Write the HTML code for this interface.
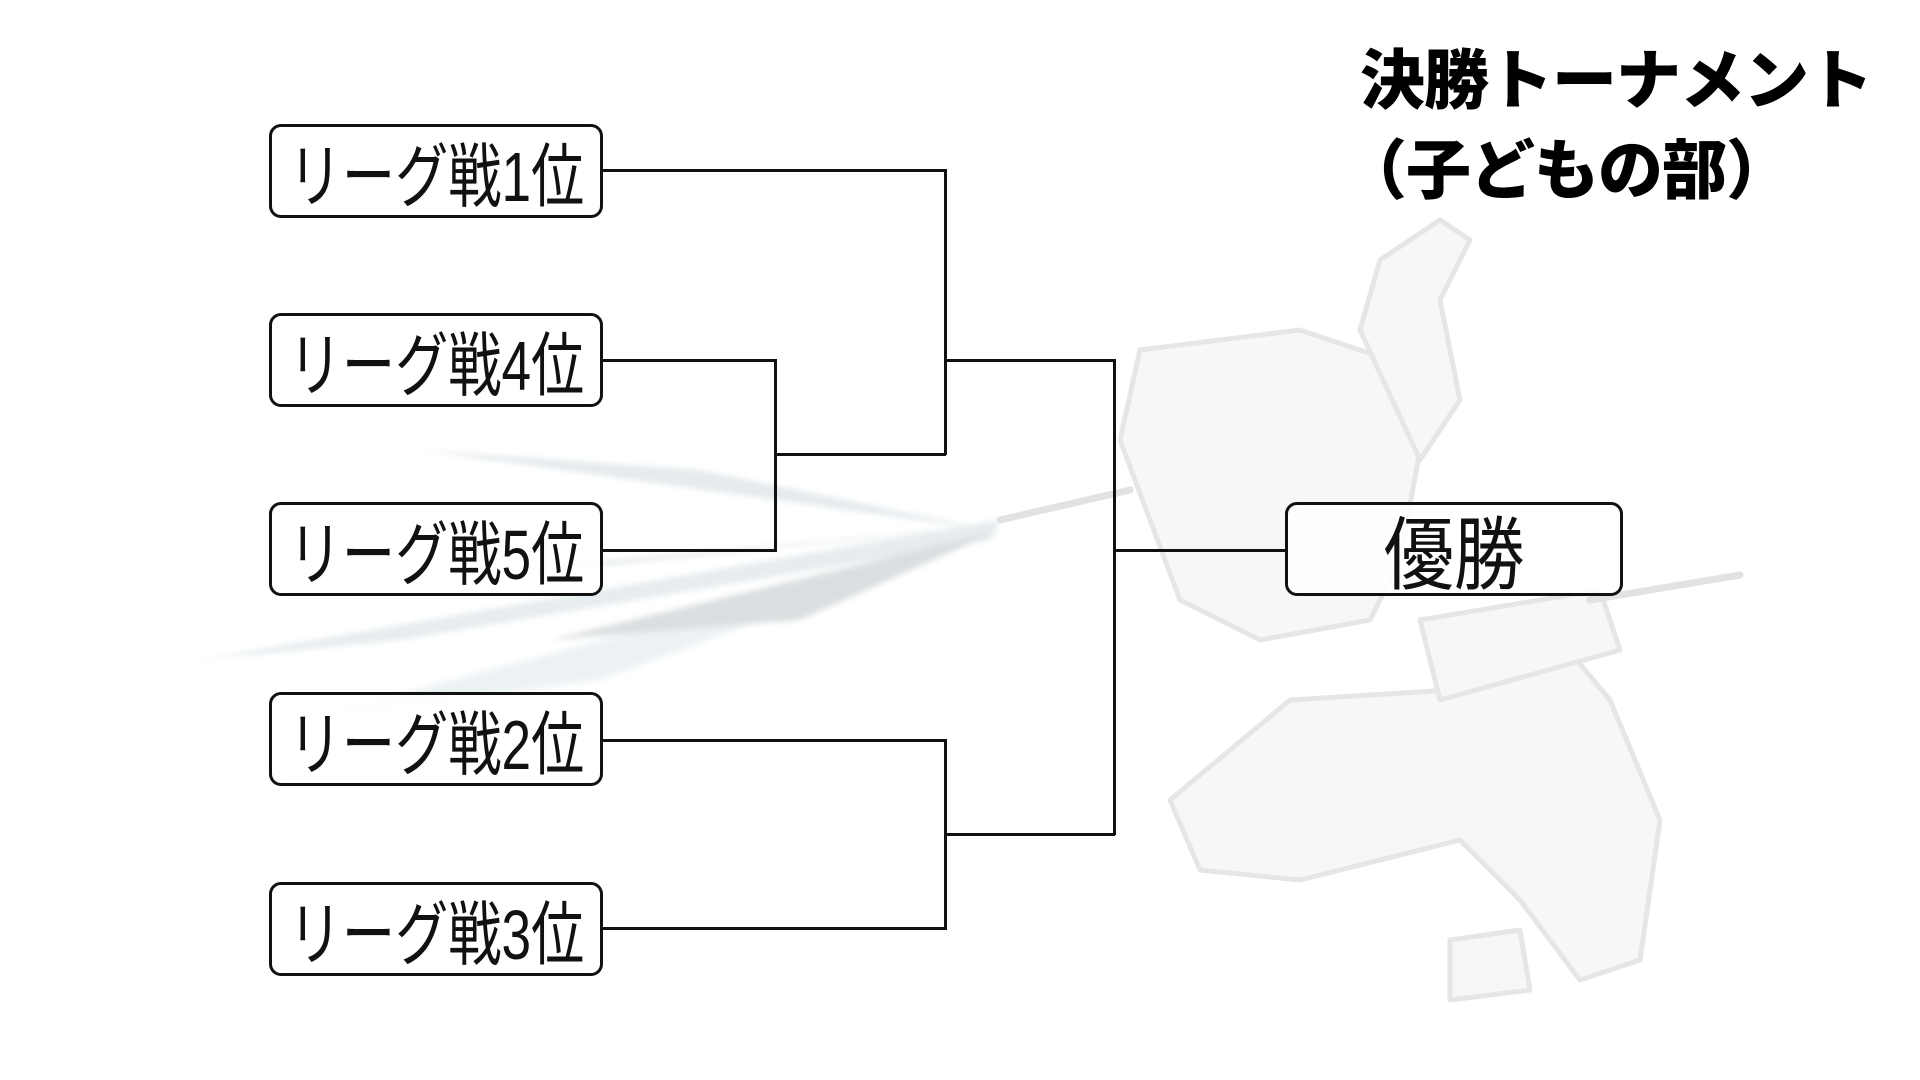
<!DOCTYPE html>
<html><head><meta charset="utf-8"><style>
html,body{margin:0;padding:0;background:#fff;}
#c{position:relative;width:1920px;height:1080px;overflow:hidden;background:#fff;}
.box{position:absolute;box-sizing:border-box;border:3px solid #111;border-radius:12px;background:rgba(255,255,255,0.85);}
.t{position:absolute;left:0;right:0;top:0;bottom:0;display:flex;align-items:center;justify-content:center;}
.t span{display:inline-block;font-family:"Liberation Sans","Noto Sans CJK JP",sans-serif;color:#111;white-space:nowrap;}
.ln{position:absolute;background:#111;}
.title{position:absolute;font-family:"Liberation Sans","Noto Sans CJK JP",sans-serif;font-weight:900;color:#000;white-space:nowrap;}
</style></head><body><div id="c">
<svg width="1920" height="1080" style="position:absolute;left:0;top:0">
 <defs><filter id="b"><feGaussianBlur stdDeviation="3"/></filter></defs>
 <g filter="url(#b)" opacity="0.45">
  <path d="M200 660 L1000 520 L990 540 L400 640 Z" fill="#c8d6dc"/>
  <path d="M260 600 L1000 525 L620 560 Z" fill="#b8c4c8"/>
  <path d="M420 450 L990 530 L700 470 Z" fill="#c5d2d8"/>
  <path d="M300 720 L980 540 L600 680 Z" fill="#d6e3e8"/>
  <path d="M550 640 L1000 530 L800 620 Z" fill="#b0b8bc"/>
 </g>
 <g fill="#f7f7f7" stroke="#e6e6e6" stroke-width="5" stroke-linejoin="round">
  <path d="M1140 350 L1300 330 L1390 360 L1420 450 L1400 560 L1370 620 L1260 640 L1180 600 L1150 520 L1120 440 Z"/>
  <path d="M1290 700 L1450 690 L1560 640 L1610 700 L1660 820 L1640 960 L1580 980 L1520 900 L1460 840 L1300 880 L1200 870 L1170 800 Z"/>
  <path d="M1420 620 L1600 590 L1620 650 L1440 700 Z"/>
  <path d="M1450 940 L1520 930 L1530 990 L1450 1000 Z"/>
  <path d="M1360 330 L1380 260 L1440 220 L1470 240 L1440 300 L1460 400 L1420 460 Z"/>
 </g>
 <g stroke="#e2e2e2" stroke-width="7" fill="none" stroke-linecap="round">
  <path d="M1000 520 L1130 490"/>
  <path d="M1590 600 L1740 575"/>
 </g>
</svg>

<div class="title" style="left:1360px;top:28px;font-size:65px;letter-spacing:-1px;">決勝トーナメント</div>
<div class="title" style="left:1342px;top:118px;font-size:65px;letter-spacing:-1px;">（子どもの部）</div>

<div class="ln" style="left:602px;top:169px;width:345px;height:2.5px"></div>
<div class="ln" style="left:944px;top:169px;width:2.5px;height:286px"></div>
<div class="ln" style="left:602px;top:359px;width:175px;height:2.5px"></div>
<div class="ln" style="left:774px;top:359px;width:2.5px;height:192px"></div>
<div class="ln" style="left:602px;top:549px;width:175px;height:2.5px"></div>
<div class="ln" style="left:774px;top:453px;width:172px;height:2.5px"></div>
<div class="ln" style="left:944px;top:359px;width:171px;height:2.5px"></div>
<div class="ln" style="left:1113px;top:359px;width:2.5px;height:476px"></div>
<div class="ln" style="left:602px;top:739px;width:345px;height:2.5px"></div>
<div class="ln" style="left:944px;top:739px;width:2.5px;height:190px"></div>
<div class="ln" style="left:602px;top:927px;width:345px;height:2.5px"></div>
<div class="ln" style="left:944px;top:833px;width:171px;height:2.5px"></div>
<div class="ln" style="left:1113px;top:549px;width:173px;height:2.5px"></div>

<div class="box" style="left:269px;top:124px;width:334px;height:94px"><div class="t"><span style="font-size:70px;transform:scaleX(0.76)">リーグ戦1位</span></div></div>
<div class="box" style="left:269px;top:313px;width:334px;height:94px"><div class="t"><span style="font-size:70px;transform:scaleX(0.76)">リーグ戦4位</span></div></div>
<div class="box" style="left:269px;top:502px;width:334px;height:94px"><div class="t"><span style="font-size:70px;transform:scaleX(0.76)">リーグ戦5位</span></div></div>
<div class="box" style="left:269px;top:692px;width:334px;height:94px"><div class="t"><span style="font-size:70px;transform:scaleX(0.76)">リーグ戦2位</span></div></div>
<div class="box" style="left:269px;top:882px;width:334px;height:94px"><div class="t"><span style="font-size:70px;transform:scaleX(0.76)">リーグ戦3位</span></div></div>
<div class="box" style="left:1285px;top:502px;width:338px;height:94px"><div class="t"><span style="font-size:80px;transform:scaleX(0.88)">優勝</span></div></div>
</div></body></html>
